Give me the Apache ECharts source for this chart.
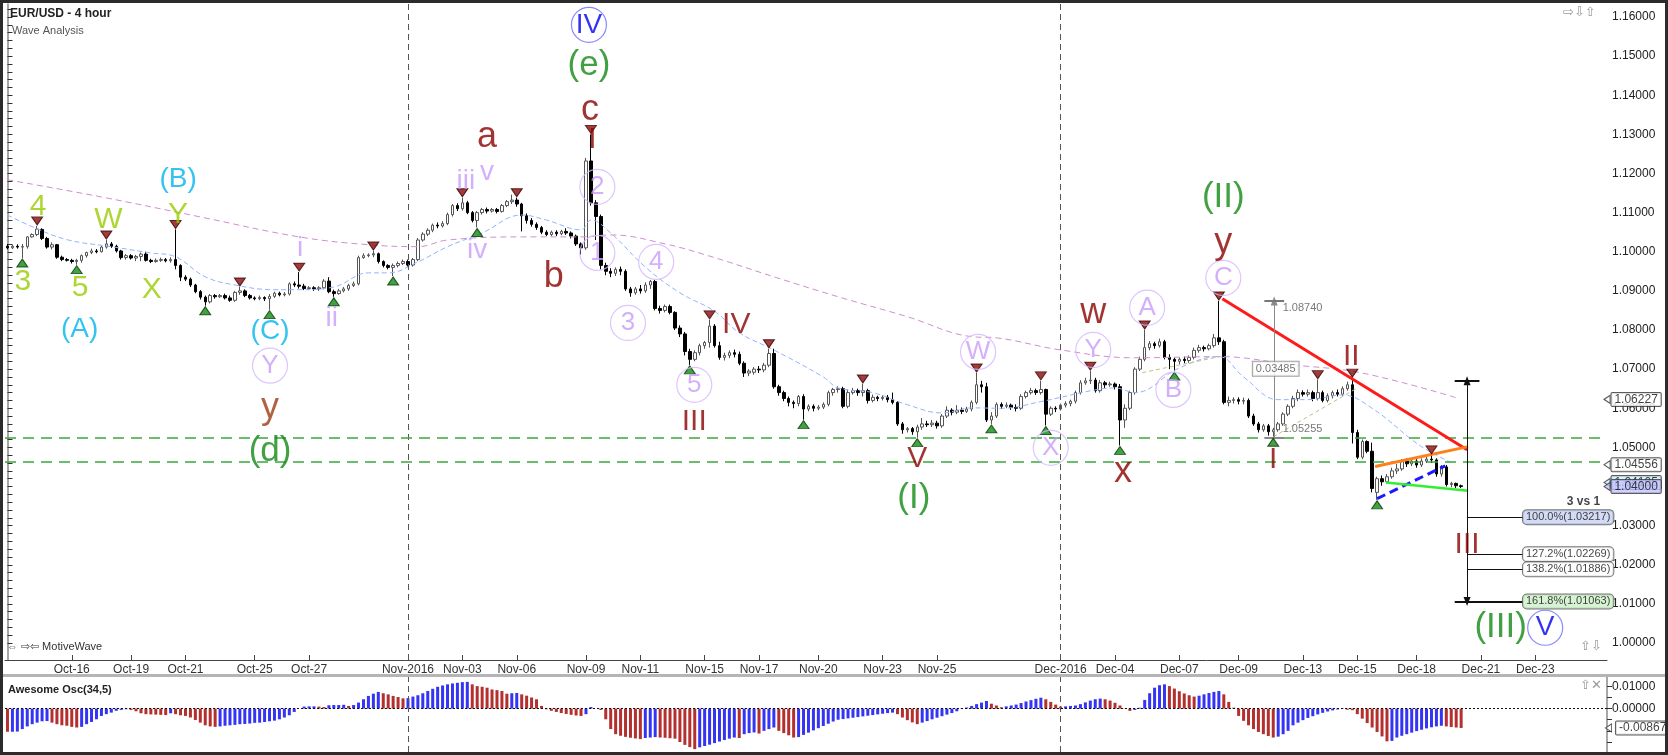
<!DOCTYPE html>
<html><head><meta charset="utf-8">
<script src="https://cdn.jsdelivr.net/npm/echarts@6/dist/echarts.min.js"></script>
<style>html,body{margin:0;padding:0;background:#fff}#c{width:1668px;height:755px}</style>
</head><body><div id="c"></div>
<script>
// ---------------- DATA ----------------
// 4-hour candles, values in pips above 1.0000 : [open, close, low, high]
const candles = [
[1014,1010,1006,1020],[1010,1014,1007,1018],[1014,1012,1008,1019],[1012,1013,984,1020],[1013,1038,1008,1040],
[1038,1044,1036,1047],[1044,1058,1040,1066],[1057,1034,1030,1060],[1034,1012,1008,1038],[1012,1018,1006,1024],
[1018,986,982,1020],[986,980,976,990],[980,978,975,984],[978,975,970,982],[975,978,967,982],
[978,990,972,993],[990,998,985,1000],[998,1002,994,1008],[1002,1000,996,1007],[1000,1012,998,1015],
[1012,1020,1008,1030],[1020,1014,1010,1025],[1014,1002,998,1018],[1002,985,980,1005],[985,990,980,994],
[990,984,980,994],[984,988,976,992],[988,994,976,998],[994,978,975,1000],[978,975,971,982],
[975,978,972,983],[978,980,974,985],[980,977,973,984],[977,980,972,986],[980,965,955,1057],
[965,935,925,968],[935,930,925,940],[930,915,910,934],[915,898,894,918],[898,884,878,902],
[884,872,862,888],[872,888,868,892],[888,885,880,892],[885,888,882,892],[888,882,878,893],
[882,876,872,888],[876,896,872,900],[896,900,890,910],[900,888,884,904],[888,882,878,892],
[882,880,876,886],[880,883,876,888],[883,880,874,886],[880,886,852,892],[886,894,882,898],
[894,890,886,898],[890,892,886,897],[892,918,888,922],[918,915,910,924],[915,912,906,948],
[912,906,902,918],[906,908,902,912],[908,905,900,912],[905,908,900,912],[908,925,904,930],
[925,898,894,935],[898,893,885,903],[893,900,890,905],[900,905,896,910],[905,914,900,918],
[914,918,910,924],[918,985,914,990],[985,990,982,996],[990,992,986,996],[992,995,986,1002],
[995,975,970,998],[975,965,960,978],[965,960,955,968],[960,965,938,970],[965,970,960,975],
[970,975,966,980],[975,966,962,980],[966,980,962,984],[980,1030,976,1035],[1030,1045,1026,1050],
[1045,1055,1040,1060],[1055,1068,1050,1072],[1068,1066,1060,1075],[1066,1072,1062,1078],[1072,1095,1068,1100],
[1095,1118,1090,1122],[1118,1110,1104,1124],[1110,1125,1105,1138],[1125,1100,1096,1130],[1100,1080,1075,1104],
[1080,1100,1062,1104],[1100,1108,1095,1112],[1108,1104,1098,1113],[1104,1108,1100,1112],[1108,1103,1098,1112],
[1103,1118,1100,1122],[1118,1128,1114,1132],[1128,1132,1122,1146],[1132,1122,1115,1138],[1122,1092,1052,1125],
[1092,1080,1072,1098],[1080,1070,1064,1086],[1070,1062,1056,1075],[1062,1050,1045,1066],[1050,1044,1040,1055],
[1044,1050,1040,1054],[1050,1046,1040,1055],[1046,1052,1042,1056],[1052,1048,1043,1060],[1048,1040,1034,1052],
[1040,1020,1015,1044],[1020,1010,993,1024],[1010,1232,1005,1240],[1232,1125,1118,1300],[1125,1090,1030,1132],
[1090,965,955,1095],[965,950,940,972],[950,945,935,958],[945,955,938,960],[955,950,940,962],
[950,905,900,955],[905,895,885,910],[895,905,890,910],[905,900,893,915],[900,915,895,922],
[915,924,905,928],[924,855,850,928],[855,850,842,862],[850,860,845,865],[860,845,840,865],
[845,805,800,848],[805,790,782,812],[790,745,735,795],[745,725,711,752],[725,742,720,748],
[742,760,735,765],[760,768,752,772],[768,810,755,826],[810,760,755,815],[760,730,724,770],
[730,735,722,742],[735,742,728,748],[742,738,730,750],[738,715,710,745],[715,690,680,720],
[690,695,682,700],[692,700,686,705],[700,698,690,708],[698,710,692,716],[710,740,705,752],
[740,655,650,752],[655,640,632,660],[640,625,618,645],[625,615,605,630],[615,612,600,620],
[612,630,605,634],[630,598,571,636],[598,605,592,610],[605,600,592,610],[600,603,595,608],
[603,610,598,615],[610,640,605,645],[640,648,632,652],[648,650,640,656],[650,605,600,655],
[605,640,600,648],[640,645,635,652],[645,640,632,650],[640,645,630,662],[645,620,612,650],
[620,628,615,635],[628,625,618,632],[625,628,620,633],[628,622,615,634],[622,615,610,640],
[615,560,555,618],[560,545,535,565],[545,548,538,552],[548,540,532,552],[540,552,525,558],
[552,560,545,575],[560,558,552,568],[558,562,552,570],[562,555,548,568],[555,580,550,585],
[580,595,575,605],[595,590,582,600],[590,595,585,608],[595,592,585,602],[592,598,588,604],
[598,615,592,620],[615,660,610,690],[660,655,640,670],[655,570,565,665],[570,580,560,590],
[580,610,575,615],[610,605,598,615],[605,608,600,615],[608,602,596,612],[602,600,592,610],
[600,630,596,636],[630,640,625,645],[640,645,635,652],[645,640,634,650],[640,648,635,670],
[648,585,556,650],[585,600,580,605],[600,598,590,605],[598,608,594,612],[608,612,602,618],
[612,618,605,622],[618,640,612,645],[640,665,635,672],[665,670,660,678],[670,672,662,695],
[672,645,640,678],[645,665,640,672],[665,660,652,670],[660,662,655,668],[662,655,648,666],
[655,570,505,662],[570,600,550,610],[600,640,595,645],[640,700,635,705],[700,725,695,732],
[725,755,720,800],[755,765,748,772],[765,760,752,770],[760,770,755,778],[770,730,725,775],
[730,725,700,738],[725,720,695,730],[720,725,712,730],[725,722,715,732],[722,730,716,735],
[730,748,725,755],[748,755,742,762],[755,752,745,760],[752,760,748,765],[760,780,755,790],
[780,770,762,874],[770,615,610,775],[615,620,605,630],[620,622,612,628],[622,618,610,628],
[618,620,610,627],[620,580,575,625],[580,560,555,586],[560,545,538,565],[545,555,540,560],
[555,540,530,560],[540,545,526,550],[545,560,540,565],[560,585,555,590],[585,605,580,610],
[605,625,600,632],[625,640,618,648],[640,636,630,646],[636,640,630,648],[640,625,618,645],
[625,640,620,673],[640,620,615,645],[620,632,615,638],[632,640,625,645],[640,636,630,648],
[636,650,632,656],[650,660,645,668],[660,538,510,677],[538,475,470,545],[475,515,470,520],
[515,490,485,518],[490,395,385,512],[385,420,366,425],[420,412,402,428],[412,425,408,432],
[425,440,420,448],[440,445,432,458],[445,465,440,470],[465,458,450,472],[458,465,452,470],
[465,455,448,470],[455,465,450,472],[465,470,460,476],[470,468,460,481],[468,432,425,472],
[432,452,425,455],[450,405,400,455],[405,408,398,412],[408,402,396,410],[402,400,396,405]
];
// Awesome Oscillator, one value per candle, in units of 0.0001
const aoPips = [
-104,-104,-103,-92,-80,-70,-63,-57,-56,-63,
-70,-75,-77,-82,-85,-82,-70,-60,-48,-33,
-25,-18,-10,-6,-3,-6,-12,-21,-25,-26,
-27,-28,-29,-21,-25,-30,-33,-40,-51,-63,
-75,-80,-82,-80,-77,-75,-73,-70,-69,-67,
-64,-63,-60,-57,-54,-48,-40,-30,-15,0,
9,10,10,9,7,15,16,16,17,12,
16,27,42,57,67,75,69,64,57,52,
46,47,54,60,69,79,89,98,104,109,
113,116,119,120,109,101,98,94,86,83,
79,67,69,70,64,58,50,42,12,-3,
-10,-15,-20,-24,-28,-31,-33,-25,7,0,
-6,-48,-92,-115,-122,-127,-131,-134,-137,-132,
-130,-128,-130,-131,-133,-135,-150,-163,-173,-182,
-174,-168,-162,-155,-148,-141,-135,-130,-132,-115,
-110,-107,-112,-100,-92,-85,-100,-110,-120,-130,
-128,-118,-108,-98,-88,-78,-68,-58,-50,-47,
-44,-41,-38,-35,-32,-29,-26,-23,-20,-18,
-25,-40,-52,-62,-70,-63,-56,-48,-41,-34,
-27,-20,-12,-2,5,12,20,27,34,22,
14,6,10,14,18,25,32,38,44,49,
42,30,18,9,10,12,14,20,28,36,
42,45,42,36,26,14,1,-10,-6,4,
39,69,94,105,109,101,90,78,68,60,
54,58,64,70,75,79,64,30,4,-33,
-55,-75,-92,-105,-115,-123,-130,-126,-115,-100,
-75,-63,-52,-42,-34,-26,-19,-13,-8,-4,
-2,-5,-7,-25,-45,-65,-85,-105,-125,-147,
-145,-130,-122,-115,-108,-101,-95,-89,-84,-80,
-77,-80,-83,-85,-87
];
// moving averages: [candle index, price]
const maSlow = [[0,1.1184],[19,1.1140],[39,1.1089],[59,1.1038],[73,1.1018],[83,1.1013],[89,1.1030],[104,1.1038],[116,1.1038],[122,1.1043],[133,1.1020],[143,1.0985],[155,1.0936],[168,1.0885],[182,1.0834],[195,1.0783],[200,1.0780],[213,1.0749],[228,1.0729],[245,1.0732],[260,1.0711],[274,1.0690],[293,1.0627]];
const maFast = [[0,1.1094],[5,1.1064],[12,1.1031],[21,1.1013],[29,1.0997],[34,1.0987],[40,1.0936],[46,1.0915],[54,1.0903],[59,1.0903],[66,1.0910],[73,1.0946],[77,1.0946],[83,1.0974],[89,1.1013],[96,1.1048],[104,1.1094],[109,1.1081],[116,1.1056],[118,1.1081],[122,1.1048],[129,1.0961],[136,1.0895],[143,1.0848],[148,1.0793],[155,1.0749],[165,1.0680],[168,1.0652],[175,1.0640],[182,1.0609],[189,1.0588],[195,1.0601],[201,1.0600],[209,1.0617],[220,1.0647],[224,1.0652],[228,1.0640],[237,1.0703],[245,1.0732],[250,1.0680],[257,1.0622],[263,1.0622],[270,1.0634],[276,1.0600],[284,1.0520],[287,1.0494],[292,1.0461]];
// date tick labels: [category index, text]
const dateTicks = [[13,'Oct-16'],[25,'Oct-19'],[36,'Oct-21'],[50,'Oct-25'],[61,'Oct-27'],[81,'Nov-2016'],[92,'Nov-03'],[103,'Nov-06'],[117,'Nov-09'],[128,'Nov-11'],[141,'Nov-15'],[152,'Nov-17'],[164,'Nov-20'],[177,'Nov-23'],[188,'Nov-25'],[213,'Dec-2016'],[224,'Dec-04'],[237,'Dec-07'],[249,'Dec-09'],[262,'Dec-13'],[273,'Dec-15'],[285,'Dec-18'],[298,'Dec-21'],[309,'Dec-23']];
const monthStarts = [81, 213];
const priceTickLabels = [1.00,1.01,1.02,1.03,1.04,1.05,1.06,1.07,1.08,1.09,1.10,1.11,1.12,1.13,1.14,1.15,1.16];
const aoTickLabels = [0.01, 0];
// swing markers (candle indices)
const swingHighs = [6,20,34,47,59,74,92,103,118,142,154,173,196,209,219,230,245,265,272,288];
const swingLows = [3,14,40,53,66,78,95,138,161,184,199,210,225,236,256,277];
const supportLevels = [1.0525, 1.0463];
// wave labels: [text, candle index, price, style]
const waveLabels = [
['4',6.2,1.1115,'lime'],['3',3.1,1.0923,'lime'],['W',20.4,1.1081,'lime'],['5',14.7,1.0908,'lime'],
['(B)',34.5,1.1184,'cyan'],['Y',34.5,1.1094,'lime'],['X',29.2,1.0903,'lime'],['(A)',14.6,1.0803,'cyan'],
['i',59.2,1.1010,'violet'],['ii',65.6,1.0831,'violet'],['(C)',53.1,1.0798,'cyan'],['Y',53.1,1.0709,'vcirc'],
['y',53.1,1.0601,'brown'],['(d)',53.1,1.0491,'green'],
['iii',92.7,1.1179,'violet'],['v',97,1.1202,'violet'],['iv',95,1.1005,'violet'],
['a',97,1.1294,'red'],['b',110.5,1.0936,'red'],
['IV',117.6,1.1580,'bcirc'],['(e)',117.6,1.1477,'green'],['c',117.8,1.1362,'red'],['I',118.3,1.1286,'redR'],
['2',119.3,1.1166,'vcirc'],['1',119.3,1.0997,'vcirc'],['3',125.5,1.0818,'vcirc'],['4',131.2,1.0974,'vcirc'],['5',138.9,1.0660,'vcirc'],
['III',138.9,1.0566,'redR'],['IV',147.4,1.0813,'redR'],['V',184.0,1.0470,'redR'],['(I)',183.3,1.0371,'green'],
['W',196.3,1.0744,'vcirc'],['X',211,1.0499,'vcirc'],['Y',219.6,1.0749,'vcirc'],['w',219.6,1.0844,'red'],['x',225.6,1.0438,'red'],
['A',230.5,1.0857,'vcirc'],['B',235.8,1.0647,'vcirc'],['C',245.9,1.0933,'vcirc'],['y',245.9,1.1023,'red'],['(II)',245.9,1.1138,'green'],
['I',256,1.0468,'redR'],['II',271.8,1.0732,'redR'],['III',295.2,1.0251,'redR'],
['(III)',302,1.0039,'green'],['V',311,1.0039,'bcirc']
];
// drawn lines: [x1, price1, x2, price2, kind]
const trendLines = [
[245.7,1.0880,295.2,1.0494,'red'],
[276.6,1.0451,295.4,1.0502,'orange'],
[277.0,1.0369,290.8,1.0453,'blueDash'],
[278.8,1.0410,295.4,1.0389,'lime'],
[229.5,1.0691,245.2,1.0732,'tan'],
[256.0,1.0527,273.0,1.0652,'tan']
];
const fibTool = {x:295.2, top:1.0670, bottom:1.01063, labelX:306.5};
const fibLevels = [['100.0%',1.03217],['127.2%',1.02269],['138.2%',1.01886],['161.8%',1.01063]];
const measureTool = {x:256.2, top:1.08740, bottom:1.05255, diff:'0.03485', labelX:257.9, diffX:256.5, diffY:1.07009};
const priceTags = [[1.06227,'plain'],[1.04556,'plain'],[1.04105,'cyan'],[1.04000,'last']];
const aoLastTag = -0.00867;
const ratioNote = ['3 vs 1', 322.1, 1.03612];

// ---------------- CHART ----------------
const FONT = '"Liberation Sans", Arial, Helvetica, sans-serif';
const N = 324;
const cats = Array.from({length: N}, (_, i) => String(i));
const toPrice = p => +(1 + p / 10000).toFixed(5);
const kData = candles.map(c => c.map(toPrice));
const tickMap = new Map(dateTicks);
const minorTicks = [];
for (let k = 0; k <= 81; k++) minorTicks.push(+(1 + k * 0.002).toFixed(3));

const STY = {
  lime:   {color:'#99cc00', size:30},
  cyan:   {color:'#00b4f0', size:28},
  violet: {color:'#c89cfa', size:28},
  vcirc:  {color:'#c89cfa', size:26, circle:'#d6b6ff', r:35},
  red:    {color:'#8b0000', size:36},
  redR:   {color:'#8b0000', size:30},
  brown:  {color:'#9a3d12', size:36},
  green:  {color:'#118811', size:35},
  bcirc:  {color:'#0000ee', size:28, circle:'#6b6bff', r:35}
};
const waveData = waveLabels.map(([t, x, y, k]) => {
  const s = STY[k];
  return {
    value: [x, y], symbol: 'circle', symbolSize: s.r || 1,
    itemStyle: {color: 'rgba(255,255,255,0)', borderColor: s.circle || 'rgba(0,0,0,0)', borderWidth: s.circle ? 1.2 : 0},
    label: {show: true, position: 'inside', formatter: t, color: s.color, fontSize: s.size, fontFamily: FONT}
  };
});

const LINE_STY = {
  red:     {color:'#ff1a1a', width:3, type:'solid'},
  orange:  {color:'#ff7f1a', width:3, type:'solid'},
  blueDash:{color:'#1a1aff', width:3, type:[9,5]},
  lime:    {color:'#33ee33', width:2.5, type:'solid'},
  tan:     {color:'#c9bd86', width:1, type:[4,3]}
};
const seg = (x1, y1, x2, y2, ls, s1, s2) => [
  {coord:[x1, y1], symbol: s1 || 'none', symbolSize: [7, 9], lineStyle: ls},
  {coord:[x2, y2], symbol: s2 || 'none', symbolSize: [7, 9]}
];
const annoLines = trendLines.map(([x1, y1, x2, y2, k]) => seg(x1, y1, x2, y2, LINE_STY[k]));
const blk = {color:'#111', width:1, type:'solid'};
const blk2 = {color:'#111', width:2, type:'solid'};
annoLines.push(seg(fibTool.x, fibTool.top, fibTool.x, fibTool.bottom, blk, 'triangle', 'triangle'));
annoLines.push(seg(fibTool.x - 2.5, fibTool.top, fibTool.x + 2.5, fibTool.top, blk2));
fibLevels.forEach(([n, v], i) => annoLines.push(seg(i === 3 ? fibTool.x - 2.5 : fibTool.x, v, fibTool.labelX, v, i === 3 ? blk2 : blk)));
const gry = {color:'#8a8a8a', width:1, type:'solid'};
annoLines.push(seg(measureTool.x, measureTool.bottom, measureTool.x, measureTool.top, gry, 'none', 'triangle'));
annoLines.push(seg(measureTool.x - 2, measureTool.top, measureTool.x + 2, measureTool.top, {color:'#777', width:2, type:'solid'}));
annoLines.push(seg(measureTool.x - 2, measureTool.bottom, measureTool.x + 2, measureTool.bottom, {color:'#888', width:2, type:'solid'}));

const FIB_BG = ['#c9d3f2', '#ffffff', '#ffffff', '#cdf0c8'];
const boxLabel = (bg, border, extra) => Object.assign({show:true, backgroundColor:bg, borderColor:border, borderWidth:1, borderRadius:4, padding:[2,3,1,3], fontSize:11, fontFamily:FONT, color:'#111'}, extra || {});
const fibData = fibLevels.map(([n, v], i) => ({
  value:[fibTool.labelX, v], symbolSize:0,
  label: boxLabel(FIB_BG[i], '#555', {position:'right', distance:0, formatter: n + '(' + v.toFixed(5) + ')'})
}));
const TAG_BG = {plain:'#ffffff', cyan:'#cdeeff', last:'#c4c4ff'};
const tagData = priceTags.map(([v, k]) => ({
  value:[N - 0.5, v], symbol:'triangle', symbolRotate:90, symbolSize:[8, 6],
  itemStyle:{color: TAG_BG[k], borderColor:'#333', borderWidth:1},
  label: boxLabel(TAG_BG[k], '#333', {position:'right', distance:1, borderRadius:1, fontSize:12, padding:[1,3,0,3], formatter: v.toFixed(5)})
}));
const measureData = [
  {value:[measureTool.labelX, measureTool.top - 0.0018], symbolSize:0, label:{show:true, position:'right', distance:0, formatter: measureTool.top.toFixed(5), color:'#555', fontSize:11, fontFamily:FONT}},
  {value:[measureTool.labelX, measureTool.bottom + 0.0022], symbolSize:0, label:{show:true, position:'right', distance:0, formatter: measureTool.bottom.toFixed(5), color:'#555', fontSize:11, fontFamily:FONT}},
  {value:[measureTool.diffX, measureTool.diffY], symbolSize:0, label: boxLabel('#fff', '#888', {position:'inside', borderRadius:0, color:'#555', formatter: measureTool.diff})},
  {value:[ratioNote[1], ratioNote[2]], symbolSize:0, label:{show:true, position:'left', distance:0, formatter: ratioNote[0], color:'#111', fontSize:12, fontWeight:'bold', fontFamily:FONT}}
];

const aoData = aoPips.map((v, i) => ({
  value: v / 10000,
  itemStyle: {color: (i === 0 || v < aoPips[i - 1]) ? '#b3302e' : '#3434f4'}
}));

const option = {
  animation: false,
  backgroundColor: '#ffffff',
  textStyle: {fontFamily: FONT},
  grid: [
    {left:5, right:61, top:4, height:656, outerBoundsMode:'none'},
    {left:5, right:61, top:677, height:75, outerBoundsMode:'none'}
  ],
  xAxis: [
    {type:'category', gridIndex:0, data:cats, boundaryGap:true,
     axisLine:{show:true, lineStyle:{color:'#444', width:1}},
     axisTick:{show:true, inside:true, length:5, alignWithLabel:true, interval:(i) => tickMap.has(i), lineStyle:{color:'#444'}},
     axisLabel:{show:true, interval:(i) => tickMap.has(i), formatter:(v, i) => tickMap.get(i) || '', color:'#333', fontSize:12, margin:4, fontFamily:FONT},
     splitLine:{show:false}},
    {type:'category', gridIndex:1, data:cats, boundaryGap:true, axisLine:{show:false}, axisTick:{show:false}, axisLabel:{show:false}, splitLine:{show:false}},
    {type:'value', gridIndex:0, min:-0.5, max:N - 0.5, show:false, splitLine:{show:false}}
  ],
  yAxis: [
    {type:'value', gridIndex:0, position:'right', min:0.99566, max:1.16332,
     splitLine:{show:false},
     axisLine:{show:true, lineStyle:{color:'#8a8a8a', width:1.5}},
     axisTick:{show:true, customValues:minorTicks, length:5, lineStyle:{color:'#333'}},
     axisLabel:{show:true, customValues:priceTickLabels, formatter:(v) => v.toFixed(5), color:'#222', fontSize:12, margin:5, fontFamily:FONT}},
    {type:'value', gridIndex:1, position:'right', min:-0.0195, max:0.0142,
     splitLine:{show:false},
     axisLine:{show:true, lineStyle:{color:'#8a8a8a', width:1.5}},
     axisTick:{show:true, customValues:[0.01,0.005,0,-0.005,-0.01,-0.015], length:5, lineStyle:{color:'#333'}},
     axisLabel:{show:true, customValues:aoTickLabels, formatter:(v) => v.toFixed(5), color:'#222', fontSize:12, margin:5, fontFamily:FONT}}
  ],
  series: [
    {type:'candlestick', name:'EUR/USD', xAxisIndex:0, yAxisIndex:0, data:kData, barWidth:3,
     itemStyle:{color:'#ffffff', color0:'#000000', borderColor:'#555555', borderColor0:'#000000', borderWidth:1},
     markLine:{silent:true, symbol:['none','none'], label:{show:false},
       data: monthStarts.map(v => ({xAxis:v, lineStyle:{color:'#555', width:1, type:[6,4]}}))}},
    {type:'line', name:'MA slow', xAxisIndex:2, yAxisIndex:0, data:maSlow, showSymbol:false, smooth:0.4,
     lineStyle:{color:'#cf8fcf', width:1, type:[6,4]}, z:3,
     markLine:{silent:true, symbol:['none','none'], label:{show:false},
       data: supportLevels.map(v => [{coord:[-0.5, v], lineStyle:{color:'#3aa83a', width:1.5, type:[11,7]}}, {coord:[N - 0.5, v]}])}},
    {type:'line', name:'MA fast', xAxisIndex:2, yAxisIndex:0, data:maFast, showSymbol:false, smooth:0.4,
     lineStyle:{color:'#93b3ff', width:1, type:[5,3]}, z:3,
     markLine:{silent:true, symbol:['none','none'], label:{show:false}, data:annoLines, z:6}},
    {type:'scatter', name:'swing highs', xAxisIndex:2, yAxisIndex:0, symbol:'triangle', symbolRotate:180, symbolSize:[11,8], symbolOffset:[0,-5],
     data: swingHighs.map(i => [i, kData[i][3]]), itemStyle:{color:'#8b0a0a', borderColor:'#3a0000', borderWidth:1}, z:7},
    {type:'scatter', name:'swing lows', xAxisIndex:2, yAxisIndex:0, symbol:'triangle', symbolSize:[11,8], symbolOffset:[0,5],
     data: swingLows.map(i => [i, kData[i][2]]), itemStyle:{color:'#138a13', borderColor:'#043a04', borderWidth:1}, z:7},
    {type:'scatter', name:'waves', xAxisIndex:2, yAxisIndex:0, data:waveData, z:8, clip:false},
    {type:'scatter', name:'fib', xAxisIndex:2, yAxisIndex:0, data:fibData, z:8, clip:false},
    {type:'scatter', name:'tags', xAxisIndex:2, yAxisIndex:0, data:tagData, z:9, clip:false},
    {type:'scatter', name:'measure', xAxisIndex:2, yAxisIndex:0, data:measureData, z:8, clip:false},
    {type:'bar', name:'AO', xAxisIndex:1, yAxisIndex:1, data:aoData, barWidth:3,
     markLine:{silent:true, symbol:['none','none'], label:{show:false},
       data:[
         {yAxis:0, lineStyle:{color:'#111', width:1, type:[2,2]}},
         ...monthStarts.map(v => ({xAxis:v, lineStyle:{color:'#555', width:1, type:[6,4]}}))
       ]}},
    {type:'scatter', name:'AO tag', xAxisIndex:1, yAxisIndex:1, clip:false,
     data:[{value:[N - 1, aoLastTag], symbol:'triangle', symbolRotate:90, symbolSize:[8,6], symbolOffset:[4,0],
       itemStyle:{color:'#fff', borderColor:'#333', borderWidth:1},
       label: boxLabel('#fff', '#333', {position:'right', distance:4, borderRadius:1, fontSize:12, padding:[1,3,0,3], formatter: aoLastTag.toFixed(5)})}], z:9}
  ],
  graphic: [
    {type:'rect', shape:{x:3, y:674, width:1662, height:3}, style:{fill:'#b5b5b5'}, z:1},
    {type:'rect', shape:{x:0, y:0, width:1668, height:3}, style:{fill:'#2b2b2b'}, z:100},
    {type:'rect', shape:{x:0, y:0, width:3, height:755}, style:{fill:'#2b2b2b'}, z:100},
    {type:'rect', shape:{x:0, y:752, width:1668, height:3}, style:{fill:'#2b2b2b'}, z:100},
    {type:'rect', shape:{x:1665, y:0, width:3, height:755}, style:{fill:'#2b2b2b'}, z:100},
    {type:'text', x:10, y:8, style:{text:'EUR/USD - 4 hour', font:'bold 12px ' + FONT, fill:'#222'}, z:50},
    {type:'text', x:12, y:25, style:{text:'Wave Analysis', font:'11px ' + FONT, fill:'#555'}, z:50},
    {type:'text', x:7, y:641, style:{text:'\u21D4 \u21E8\u21E6 MotiveWave', font:'11px ' + FONT, fill:'#333'}, z:50},
    {type:'text', x:8, y:684, style:{text:'Awesome Osc(34,5)', font:'bold 11px ' + FONT, fill:'#222'}, z:50},
    {type:'text', x:1563, y:6, style:{text:'\u21E8\u21E9\u21E7', font:'13px "DejaVu Sans"', fill:'#999'}, z:50},
    {type:'text', x:1580, y:640, style:{text:'\u21E7\u21E9', font:'13px "DejaVu Sans"', fill:'#999'}, z:50},
    {type:'text', x:1580, y:679, style:{text:'\u21E7\u2715', font:'13px "DejaVu Sans"', fill:'#999'}, z:50}
  ]
};
const chart = echarts.init(document.getElementById('c'), null, {renderer:'canvas', width:1668, height:755});
chart.setOption(option);
</script></body></html>
